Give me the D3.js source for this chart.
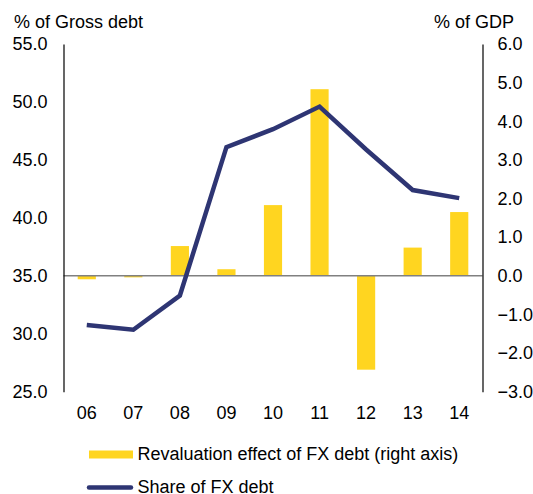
<!DOCTYPE html>
<html>
<head>
<meta charset="utf-8">
<script src="https://cdn.jsdelivr.net/npm/d3@7"></script>
<style>
  body { margin: 0; background: #fff; }
  text { font-family: "Liberation Sans", Arial, sans-serif; font-size: 18px; fill: #000; }
</style>
</head>
<body>
<div class="chart"></div>
<script>
var years = ["06", "07", "08", "09", "10", "11", "12", "13", "14"];
// revaluation effect of FX debt, % of GDP (right axis)
var revaluation = [-0.09, -0.04, 0.77, 0.17, 1.83, 4.83, -2.43, 0.73, 1.65];
// share of FX debt, % of gross debt (left axis)
var fxShare = [30.75, 30.35, 33.3, 46.1, 47.65, 49.6, 45.9, 42.4, 41.7];
var leftTicks = [25, 30, 35, 40, 45, 50, 55];
var rightTicks = [-3, -2, -1, 0, 1, 2, 3, 4, 5, 6];

var svgWidth = 533;
var svgHeight = 494;
var plot = { left: 63.5, right: 482.5, top: 44, bottom: 391.7 };

var svg = d3.select(".chart")
  .append("svg")
  .attr("width", svgWidth)
  .attr("height", svgHeight);

var xScale = d3.scaleBand().domain(years).range([plot.left, plot.right]);
var yLeft = d3.scaleLinear().domain([25, 55]).range([plot.bottom, plot.top]);
var yRight = d3.scaleLinear().domain([-3, 6]).range([plot.bottom, plot.top]);

var barColor = "#ffd520";
var lineColor = "#2e3573";
var barWidth = xScale.step() * 0.39;

// bars
svg.append("g")
  .selectAll("rect")
  .data(revaluation)
  .enter()
  .append("rect")
  .attr("x", function(d, i) { return xScale(years[i]) + xScale.bandwidth() / 2 - barWidth / 2; })
  .attr("y", function(d) { return yRight(Math.max(d, 0)); })
  .attr("width", barWidth)
  .attr("height", function(d) { return Math.abs(yRight(d) - yRight(0)); })
  .attr("fill", barColor);

// zero line
svg.append("line")
  .attr("x1", plot.left)
  .attr("x2", plot.right)
  .attr("y1", yRight(0))
  .attr("y2", yRight(0))
  .attr("stroke", "#808080")
  .attr("stroke-width", 1.5);

// share line
var line = d3.line()
  .x(function(d, i) { return xScale(years[i]) + xScale.bandwidth() / 2; })
  .y(function(d) { return yLeft(d); });

svg.append("path")
  .datum(fxShare)
  .attr("d", line)
  .attr("fill", "none")
  .attr("stroke", lineColor)
  .attr("stroke-width", 4.5);

// axes
var leftAxis = d3.axisLeft(yLeft)
  .tickValues(leftTicks)
  .tickSize(0)
  .tickPadding(16)
  .tickFormat(d3.format(".1f"));

var rightAxis = d3.axisRight(yRight)
  .tickValues(rightTicks)
  .tickSize(0)
  .tickPadding(15)
  .tickFormat(d3.format(".1f"));

var bottomAxis = d3.axisBottom(xScale)
  .tickSize(0)
  .tickPadding(15);

svg.append("g")
  .attr("transform", "translate(" + plot.left + ",0)")
  .call(leftAxis);

svg.append("g")
  .attr("transform", "translate(" + plot.right + ",0)")
  .call(rightAxis);

var gBottom = svg.append("g")
  .attr("transform", "translate(0," + plot.bottom + ")")
  .call(bottomAxis);
gBottom.select(".domain").remove();

svg.selectAll(".domain").attr("stroke", "#000").attr("stroke-width", 1.2);
svg.selectAll(".tick text")
  .attr("fill", "#000")
  .style("font-family", "'Liberation Sans', Arial, sans-serif")
  .style("font-size", "18px");

// axis titles
svg.append("text")
  .attr("x", 14)
  .attr("y", 27.5)
  .text("% of Gross debt");

svg.append("text")
  .attr("x", 514)
  .attr("y", 27.5)
  .attr("text-anchor", "end")
  .text("% of GDP");

// legend
svg.append("rect")
  .attr("x", 89)
  .attr("y", 450.5)
  .attr("width", 44)
  .attr("height", 8)
  .attr("fill", barColor);

svg.append("text")
  .attr("x", 137.5)
  .attr("y", 460)
  .text("Revaluation effect of FX debt (right axis)");

svg.append("line")
  .attr("x1", 89)
  .attr("x2", 131)
  .attr("y1", 487.5)
  .attr("y2", 487.5)
  .attr("stroke", lineColor)
  .attr("stroke-width", 4.5)
  .attr("stroke-linecap", "round");

svg.append("text")
  .attr("x", 137.5)
  .attr("y", 493)
  .text("Share of FX debt");
</script>
</body>
</html>
